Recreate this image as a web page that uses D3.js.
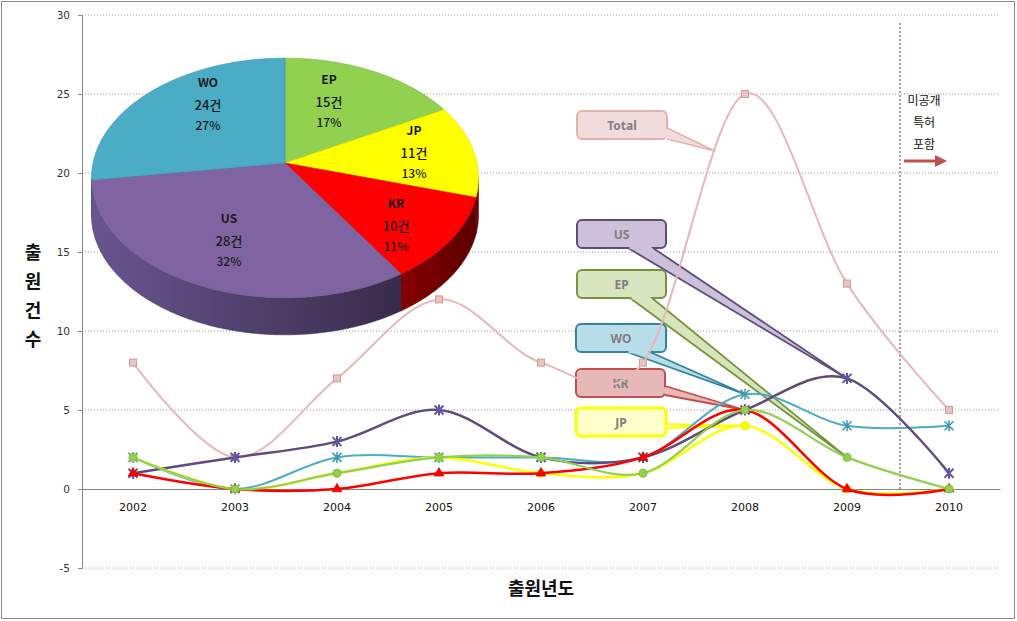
<!DOCTYPE html>
<html><head><meta charset="utf-8">
<script src="https://cdn.jsdelivr.net/npm/d3@7/dist/d3.min.js"></script>
<style>body{margin:0;background:#fff}svg{display:block}</style>
</head><body>
<svg id="chart" width="1017" height="621"></svg>
<script>
// ---------- DATA ----------
const years = ["2002","2003","2004","2005","2006","2007","2008","2009","2010"];
const totalValues = [8, 2, 7, 12, 8, 8, 25, 13, 5];
const usValues    = [1, 2, 3, 5, 2, 2, 5, 7, 1];
const woValues    = [2, 0, 2, 2, 2, 2, 6, 4, 4];
const epValues    = [2, 0, 1, 2, 2, 1, 5, 2, 0];
const jpValues    = [2, 0, 1, 2, 1, 1, 4, 0, 0];
const krValues    = [1, 0, 0, 1, 1, 2, 5, 0, 0];
const yTicks = [-5, 0, 5, 10, 15, 20, 25, 30];
const pieNames  = ["EP", "JP", "KR", "US", "WO"];
const pieCounts = [15, 11, 10, 28, 24];
const yTitle = "출원건수";
const xTitle = "출원년도";
const noteLines = ["미공개", "특허", "포함"];

// ---------- SETUP ----------
const svg = d3.select("#chart");
const W = 1017, H = 621;
const x = d3.scaleBand().domain(years).range([82, 1000]);
const xc = d => x(d) + x.bandwidth() / 2;
const y = d3.scaleLinear().domain([-5, 30]).range([568, 15]);
const krFont = "'Noto Sans CJK KR','Noto Sans',sans-serif";
const numFont = "'DejaVu Sans','Verdana',sans-serif";

svg.append("rect").attr("x", 1.5).attr("y", 1.5).attr("width", W - 4).attr("height", H - 4)
  .attr("fill", "#fff").attr("stroke", "#8c8c8c").attr("stroke-width", 1);

// gridlines
svg.append("g").selectAll("line").data(yTicks.filter(t => t !== 0)).join("line")
  .attr("x1", 82).attr("x2", 1000).attr("y1", d => y(d)).attr("y2", d => y(d))
  .attr("stroke", "#9a9a9a").attr("stroke-width", 1).attr("stroke-dasharray", "1,2");

// y axis
const yAxis = d3.axisLeft(y).tickValues(yTicks).tickSize(4).tickPadding(8).tickFormat(d => String(d));
const gy = svg.append("g").attr("transform", "translate(82,0)").call(yAxis);
gy.select(".domain").attr("stroke", "#868686");
gy.selectAll(".tick line").attr("stroke", "#868686");
gy.selectAll(".tick text").attr("font-family", numFont).attr("font-size", 10.5).attr("fill", "#333");

// x axis at zero
const xAxis = d3.axisBottom(x).tickSize(0).tickPadding(14);
const gx = svg.append("g").attr("transform", `translate(0,${y(0)})`).call(xAxis);
gx.select(".domain").attr("stroke", "#868686");
gx.selectAll(".tick text").attr("font-family", numFont).attr("font-size", 11).attr("fill", "#111");

// vertical dotted separator between 2009 and 2010
svg.append("line").attr("x1", x("2010")+2).attr("x2", x("2010")+2).attr("y1", y(29.5)).attr("y2", y(0))
  .attr("stroke", "#b49a9a").attr("stroke-width", 2).attr("stroke-dasharray", "2,2");

// note text + arrow
noteLines.forEach((t, i) => {
  svg.append("text").attr("x", 924).attr("y", 105 + i * 22).attr("text-anchor", "middle")
    .attr("font-family", krFont).attr("font-size", 12).attr("fill", "#111").text(t);
});
const defs = svg.append("defs");
defs.append("marker").attr("id", "ah").attr("viewBox", "0 0 10 10").attr("refX", 5).attr("refY", 5)
  .attr("markerWidth", 4).attr("markerHeight", 4).attr("orient", "auto")
  .append("path").attr("d", "M0,0 L10,5 L0,10 z").attr("fill", "#c0504d");
svg.append("line").attr("x1", 904).attr("x2", 941).attr("y1", 161).attr("y2", 161)
  .attr("stroke", "#c0504d").attr("stroke-width", 3).attr("marker-end", "url(#ah)");

// axis titles
[...yTitle].forEach((ch, i) => {
  svg.append("text").attr("x", 33).attr("y", 259 + i * 29).attr("text-anchor", "middle")
    .attr("font-family", krFont).attr("font-weight", "bold").attr("font-size", 18).attr("fill", "#111").text(ch);
});
svg.append("text").attr("x", 541).attr("y", 595).attr("text-anchor", "middle")
  .attr("font-family", krFont).attr("font-weight", "bold").attr("font-size", 18).attr("fill", "#111").text(xTitle);

// ---------- CALLOUTS (drawn beneath lines) ----------
const callouts = [
  {label:"Total", box:[577,111,90,28], fill:"#f2dcdb", stroke:"#e3b3b2", sw:2, base:[[667,128],[667,139]], tip:[xc("2007")+72, 151]},
  {label:"US", box:[577,220,89,28], fill:"#ccc0da", stroke:"#604a7b", sw:2, base:[[628,248],[653,248]], tip:[xc("2009"), y(usValues[7])]},
  {label:"EP", box:[577,270,89,28], fill:"#d7e4bd", stroke:"#77933c", sw:2, base:[[630,298],[652,298]], tip:[xc("2009"), y(epValues[7])]},
  {label:"WO", box:[576,324,90,28], fill:"#b7dee8", stroke:"#31859c", sw:2, base:[[627,352],[650,352]], tip:[xc("2008"), y(woValues[6])]},
  {label:"KR", box:[576,369,89,28], fill:"#e6b9b8", stroke:"#c0504d", sw:2, base:[[665,386],[665,395]], tip:[xc("2008"), y(krValues[6])]},
  {label:"JP", box:[576,408,90,28], fill:"#ffffcc", stroke:"#ffff00", sw:3, base:[[666,424],[666,428]], tip:[xc("2008"), y(jpValues[6])]}
];
const cg = svg.append("g");
callouts.forEach(c => {
  const [bx, by, bw, bh] = c.box;
  cg.append("rect").attr("x", bx).attr("y", by).attr("width", bw).attr("height", bh).attr("rx", 5)
    .attr("fill", c.fill).attr("stroke", c.stroke).attr("stroke-width", c.sw);
  cg.append("path").attr("d", `M${c.base[0][0]},${c.base[0][1]}L${c.tip[0]},${c.tip[1]}L${c.base[1][0]},${c.base[1][1]}`)
    .attr("fill", c.fill).attr("stroke", c.stroke).attr("stroke-width", c.sw === 3 ? 2 : 1.8).attr("stroke-linejoin", "round");
  const bx0 = Math.min(c.base[0][0], c.base[1][0]), by0 = Math.min(c.base[0][1], c.base[1][1]);
  if (c.base[0][1] === c.base[1][1]) {
    cg.append("line").attr("x1", c.base[0][0] + 1.5).attr("x2", c.base[1][0] - 1.5).attr("y1", by0).attr("y2", by0)
      .attr("stroke", c.fill).attr("stroke-width", c.sw + 0.5);
  } else {
    cg.append("line").attr("x1", bx0).attr("x2", bx0).attr("y1", c.base[0][1] + 1.5).attr("y2", c.base[1][1] - 1.5)
      .attr("stroke", c.fill).attr("stroke-width", c.sw + 0.5);
  }
  cg.append("text").attr("x", bx + bw / 2).attr("y", by + bh / 2 + 4.5).attr("text-anchor", "middle")
    .attr("font-family", "'Noto Sans',sans-serif").attr("font-weight", "bold").attr("font-size", 12)
    .attr("fill", "#7f7f7f").text(c.label);
});

// ---------- LINES ----------
const series = [
  {name:"Total", values: totalValues, color:"#e6b9b8", width:2, marker:"square", mfill:"#e8c4c3", mstroke:"#d39a99"},
  {name:"WO", values: woValues, color:"#4bacc6", width:2, marker:"asterisk", mstroke:"#3a98b4"},
  {name:"US", values: usValues, color:"#604a7b", width:2.5, marker:"star", mstroke:"#5d55a8"},
  {name:"JP", values: jpValues, color:"#ffff00", width:2.5, marker:"circle", mfill:"#ffff00", mstroke:"#e6e600"},
  {name:"KR", values: krValues, color:"#ff0000", width:2.5, marker:"triangle", mfill:"#ff0000", mstroke:"#e00000"},
  {name:"EP", values: epValues, color:"#92d050", width:2.2, marker:"circle", mfill:"#92d050", mstroke:"#7fbf3f"}
];
const line = d3.line().x((d, i) => xc(years[i])).y(d => y(d)).curve(d3.curveCardinal.tension(0));
const lg = svg.append("g");
series.forEach(s => {
  lg.append("path").datum(s.values).attr("d", line).attr("fill", "none")
    .attr("stroke", s.color).attr("stroke-width", s.width).attr("stroke-linejoin", "round");
  const mg = lg.append("g");
  s.values.forEach((v, i) => {
    const px = xc(years[i]), py = y(v);
    if (s.marker === "square") {
      mg.append("rect").attr("x", px - 3.5).attr("y", py - 3.5).attr("width", 7).attr("height", 7)
        .attr("fill", s.mfill).attr("stroke", s.mstroke).attr("stroke-width", 1);
    } else if (s.marker === "circle") {
      mg.append("circle").attr("cx", px).attr("cy", py).attr("r", 4).attr("fill", s.mfill).attr("stroke", s.mstroke).attr("stroke-width", 1);
    } else if (s.marker === "triangle") {
      mg.append("path").attr("transform", `translate(${px},${py})`)
        .attr("d", d3.symbol().type(d3.symbolTriangle).size(40)).attr("fill", s.mfill).attr("stroke", s.mstroke).attr("stroke-width", 0.8);
    } else {
      const r = 4.5;
      const d = `M${px-r},${py-r}L${px+r},${py+r}M${px-r},${py+r}L${px+r},${py-r}M${px},${py-r-1}L${px},${py+r+1}`;
      mg.append("path").attr("d", d).attr("stroke", s.mstroke).attr("stroke-width", s.marker === "star" ? 2 : 1.5).attr("fill", "none");
    }
  });
});

// ---------- 3D PIE ----------
const pieColors = {EP:"#92d050", JP:"#ffff00", KR:"#ff0000", US:"#8064a2", WO:"#4bacc6"};
const sideColors = {EP:["#5c8a2c","#4a7020"], JP:["#7a0000","#700000"], KR:["#860000","#5a0000"], US:["#6a5590","#382c4a"], WO:["#2f7f95","#235f70"]};
const P = {cx:285, cy:163, a:192, b:118, e:0.125, depth:37};
function proj(t, f = 1) {
  const u = f * Math.sin(t), v = f * Math.cos(t), d = 1 + P.e * v;
  return [P.cx + P.a * u / d, P.cy - P.b * v / d];
}
const pieTotal = d3.sum(pieCounts);
let acc = 0;
const slices = pieNames.map((n, i) => {
  const t0 = acc / pieTotal * 2 * Math.PI; acc += pieCounts[i];
  const t1 = acc / pieTotal * 2 * Math.PI;
  return {name: n, count: pieCounts[i], t0, t1};
});
const pg = svg.append("g");
const tR = Math.acos(-P.e), tL = 2 * Math.PI - Math.acos(-P.e);
function arcPts(t0, t1) {
  const n = Math.max(2, Math.ceil((t1 - t0) / 0.01));
  return d3.range(n + 1).map(k => proj(t0 + (t1 - t0) * k / n));
}
slices.forEach((s, i) => {
  const a0 = Math.max(s.t0, tR), a1 = Math.min(s.t1, tL);
  if (a1 <= a0) return;
  const top = arcPts(a0, a1);
  const bot = top.map(p => [p[0], p[1] + P.depth]).reverse();
  const pts = top.concat(bot);
  const gid = "sg" + i;
  const xs = pts.map(p => p[0]);
  const gr = defs.append("linearGradient").attr("id", gid).attr("gradientUnits", "userSpaceOnUse")
    .attr("x1", d3.min(xs)).attr("x2", d3.max(xs)).attr("y1", 0).attr("y2", 0);
  gr.append("stop").attr("offset", 0).attr("stop-color", sideColors[s.name][0]);
  gr.append("stop").attr("offset", 1).attr("stop-color", sideColors[s.name][1]);
  pg.append("path").attr("d", "M" + pts.map(p => p.join(",")).join("L") + "Z")
    .attr("fill", `url(#${gid})`).attr("stroke", sideColors[s.name][1]).attr("stroke-width", 0.5);
});
slices.forEach(s => {
  const pts = [[P.cx, P.cy]].concat(arcPts(s.t0, s.t1));
  pg.append("path").attr("d", "M" + pts.map(p => p.join(",")).join("L") + "Z")
    .attr("fill", pieColors[s.name]).attr("stroke", d3.color(pieColors[s.name]).darker(0.4)).attr("stroke-width", 0.6)
    .attr("stroke-linejoin", "round");
});
const labelPos = {EP:[329,80], JP:[414,131], KR:[396,204], US:[229,219], WO:[208,83]};
slices.forEach(s => {
  const [lx, ly] = labelPos[s.name];
  const pct = Math.round(s.count / pieTotal * 100) + "%";
  const g = pg.append("g").attr("font-family", krFont).attr("text-anchor", "middle").attr("fill", "#1a1a1a");
  g.append("text").attr("x", lx).attr("y", ly + 4).attr("font-size", 12).attr("font-weight", "bold").text(s.name);
  g.append("text").attr("x", lx).attr("y", ly + 27).attr("font-size", 13).attr("font-weight", 500).text(s.count + "건");
  g.append("text").attr("x", lx).attr("y", ly + 47).attr("font-size", 12).attr("font-weight", 500).text(pct);
});
</script>
</body></html>
